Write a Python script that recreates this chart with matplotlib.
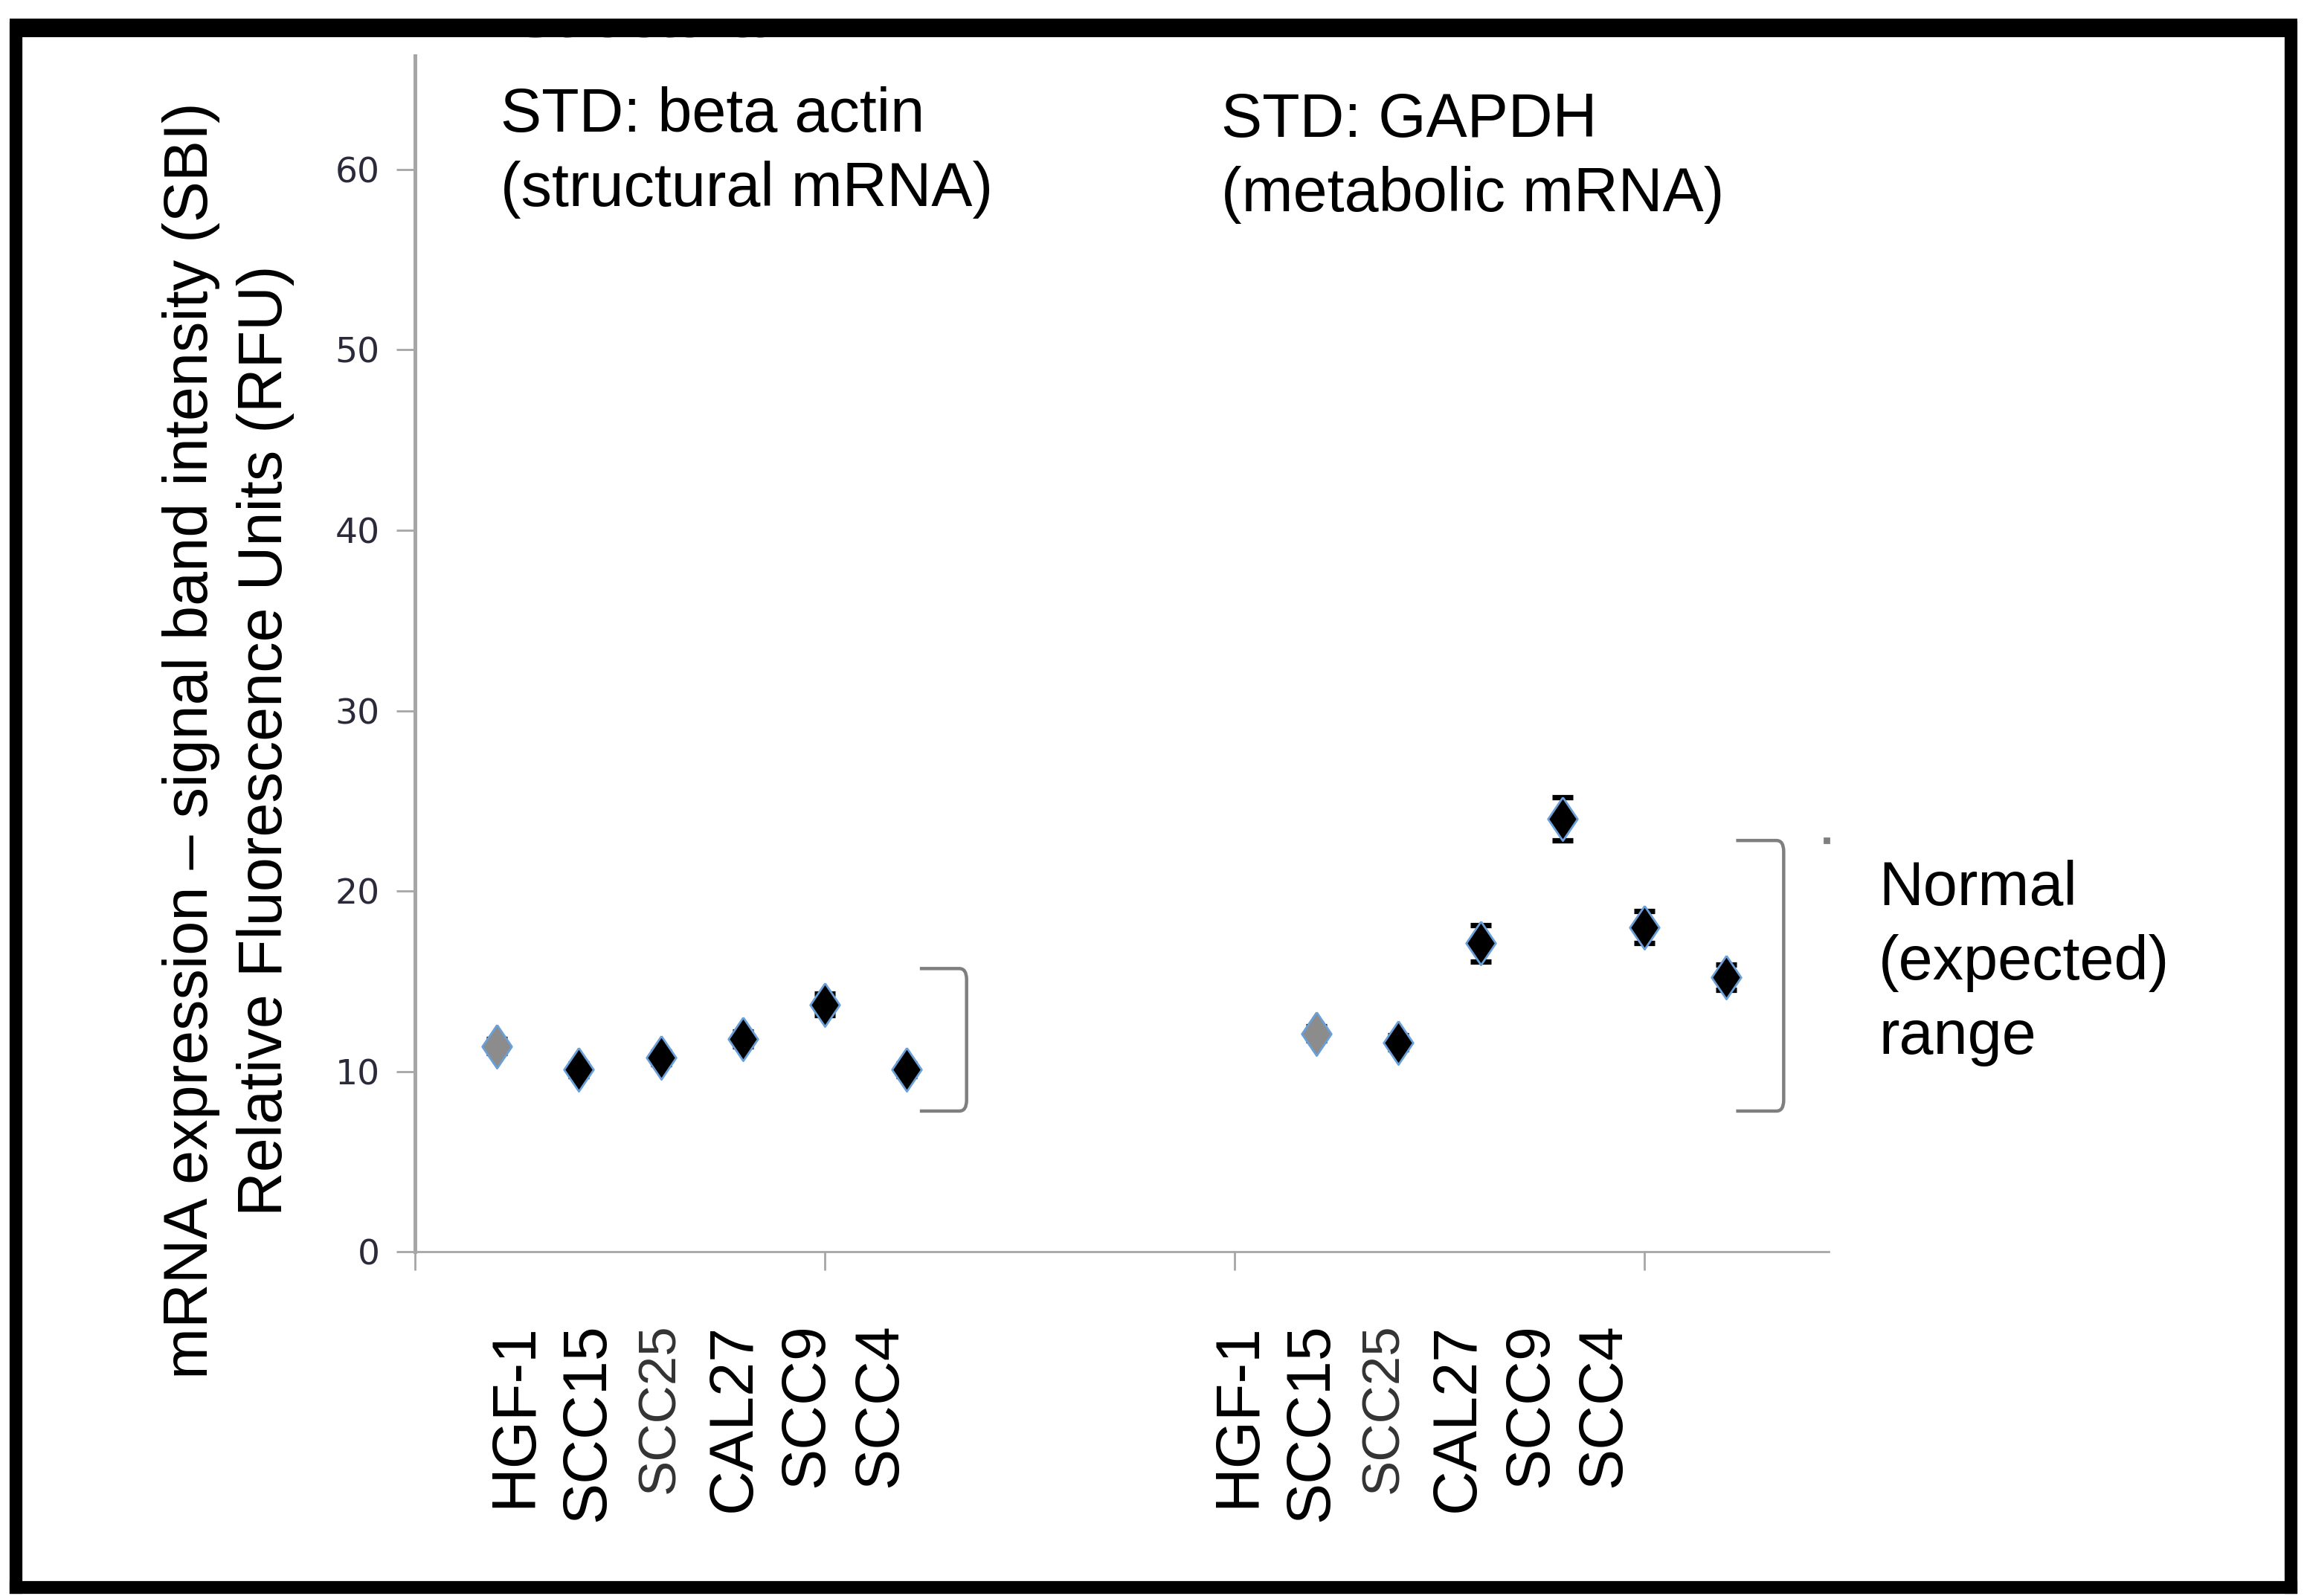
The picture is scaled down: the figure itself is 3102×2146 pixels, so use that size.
import numpy as np
import matplotlib
matplotlib.use('Agg')
import matplotlib.pyplot as plt
from matplotlib.path import Path
from matplotlib.patches import PathPatch
from matplotlib.lines import Line2D
from matplotlib.transforms import Bbox, TransformedBbox

plt.rcParams['font.family'] = ['Liberation Sans', 'DejaVu Sans']

# data
cell_lines = ['HGF-1', 'SCC15', 'SCC25', 'CAL27', 'SCC9', 'SCC4']
actin_mean = [11.4, 10.1, 10.75, 11.8, 13.7, 10.1]
actin_err = [0.4, 0.35, 0.35, 0.4, 0.6, 0.35]
gapdh_mean = [12.1, 11.6, 17.1, 24.0, 18.0, 15.2]
gapdh_err = [0.4, 0.4, 1.0, 1.2, 0.9, 0.7]
actin_range = (7.8, 15.7)   # normal (expected) range brackets
gapdh_range = (7.8, 22.8)
yticks = [0, 10, 20, 30, 40, 50, 60]

# category positions on the axis
actin_x = np.arange(1, 7)
gapdh_x = np.arange(11, 17)

FS = 29.8
LS = 1.36

fig = plt.figure(figsize=(15.51, 10.73), dpi=200)
ax = fig.add_axes([0.1799, 0.2157, 0.6128, 0.7493])
ax.set_xlim(0, 17.25)
ax.set_ylim(0, 66.3)

# diamond a bit wider than matplotlib's thin diamond
diamond = [(0, 1), (0.68, 0), (0, -1), (-0.68, 0), (0, 1)]

def draw_group(xs, means, errs):
    cols = ['#8c8c8c'] + ['black'] * (len(xs) - 1)
    for x, m, e, c in zip(xs, means, errs, cols):
        ax.errorbar(x, m, yerr=e, fmt='none', ecolor='black', elinewidth=1.5,
                    capsize=5.2, capthick=2.6, zorder=2)
        ax.plot(x, m, marker=diamond, ms=21, color=c, mec='#6a9fd8', mew=1.0,
                zorder=3, linestyle='none')

draw_group(actin_x, actin_mean, actin_err)
draw_group(gapdh_x, gapdh_mean, gapdh_err)

# axes styling
for s in ['top', 'right']:
    ax.spines[s].set_visible(False)
ax.spines['left'].set_color('#a6a6a6')
ax.spines['left'].set_linewidth(1.8)
ax.spines['bottom'].set_color('#a6a6a6')
ax.spines['bottom'].set_linewidth(1.0)
ax.set_yticks(yticks)
ax.set_xticks([0, 5, 10, 15])
ax.set_xticklabels([])
ax.tick_params(axis='y', length=9, width=1.0, color='#a6a6a6',
               labelsize=17, labelcolor='#2a2a3a', pad=8)
ax.tick_params(axis='x', length=9, width=1.0, color='#a6a6a6')
for lab in ax.get_yticklabels():
    lab.set_family('DejaVu Sans')

# category labels, placed under each group
for start in [1.22, 10.05]:
    for i, name in enumerate(cell_lines):
        small = name == 'SCC25'
        ax.text(start + 0.89 * i, -0.06, name, rotation=90,
                ha='center', va='top', fontsize=25.5 if small else FS,
                color='#333333' if small else 'black',
                transform=ax.get_xaxis_transform(), clip_on=False)

# group titles
ax.text(1.04, 0.919, 'STD: beta actin\n(structural mRNA)', fontsize=FS,
        ha='left', va='center', transform=ax.get_xaxis_transform(),
        linespacing=LS)
ax.text(9.84, 0.915, 'STD: GAPDH\n(metabolic mRNA)', fontsize=FS,
        ha='left', va='center', transform=ax.get_xaxis_transform(),
        linespacing=LS)

# brackets for the normal range
def bracket(x0, x1, lo, hi):
    r = 0.09
    ry = 0.6
    verts = [(x0, hi), (x1 - r, hi), (x1, hi), (x1, hi - ry),
             (x1, lo + ry), (x1, lo), (x1 - r, lo), (x0, lo)]
    codes = [Path.MOVETO, Path.LINETO, Path.CURVE3, Path.CURVE3,
             Path.LINETO, Path.CURVE3, Path.CURVE3, Path.LINETO]
    ax.add_patch(PathPatch(Path(verts, codes), fill=False, ec='#7f7f7f',
                           lw=1.6, clip_on=False))

bracket(6.16, 6.73, *actin_range)
bracket(16.12, 16.70, *gapdh_range)
ax.plot(17.22, gapdh_range[1], marker='s', ms=2.2, color='#7f7f7f', clip_on=False)

ax.text(17.86, 16.0, 'Normal\n(expected)\nrange', fontsize=FS, ha='left',
        va='center', linespacing=LS, clip_on=False)

# y axis title
fig.text(0.099, 0.536, 'mRNA expression \u2013 signal band intensity (SBI)\n'
         'Relative Fluorescence Units (RFU)', rotation=90, fontsize=FS,
         ha='center', va='center', linespacing=LS)

# ghost text cut off by the frame
ghost = fig.text(0.223, 1 - 50 / 2146, 'Structural mRNA', fontsize=FS,
                 color='#8a8a8a', ha='left', va='baseline')
ghost.set_clip_box(TransformedBbox(Bbox([[0, 0], [1, 0.985]]), fig.transFigure))
ghost.set_clip_on(True)

# outer frame (top edge a little heavier)
W, H = 3102, 2146
def frame_line(xs, ys, lw):
    fig.lines.append(Line2D([x / W for x in xs], [1 - y / H for y in ys],
                            transform=fig.transFigure, color='black', lw=lw,
                            solid_capstyle='projecting', zorder=10))

frame_line([25, 3076], [37, 37], 9.0)
frame_line([21, 3080], [2134, 2134], 6.2)
frame_line([21, 21], [37, 2134], 6.2)
frame_line([3080, 3080], [37, 2134], 6.2)

fig.savefig('out.png', dpi=200)
